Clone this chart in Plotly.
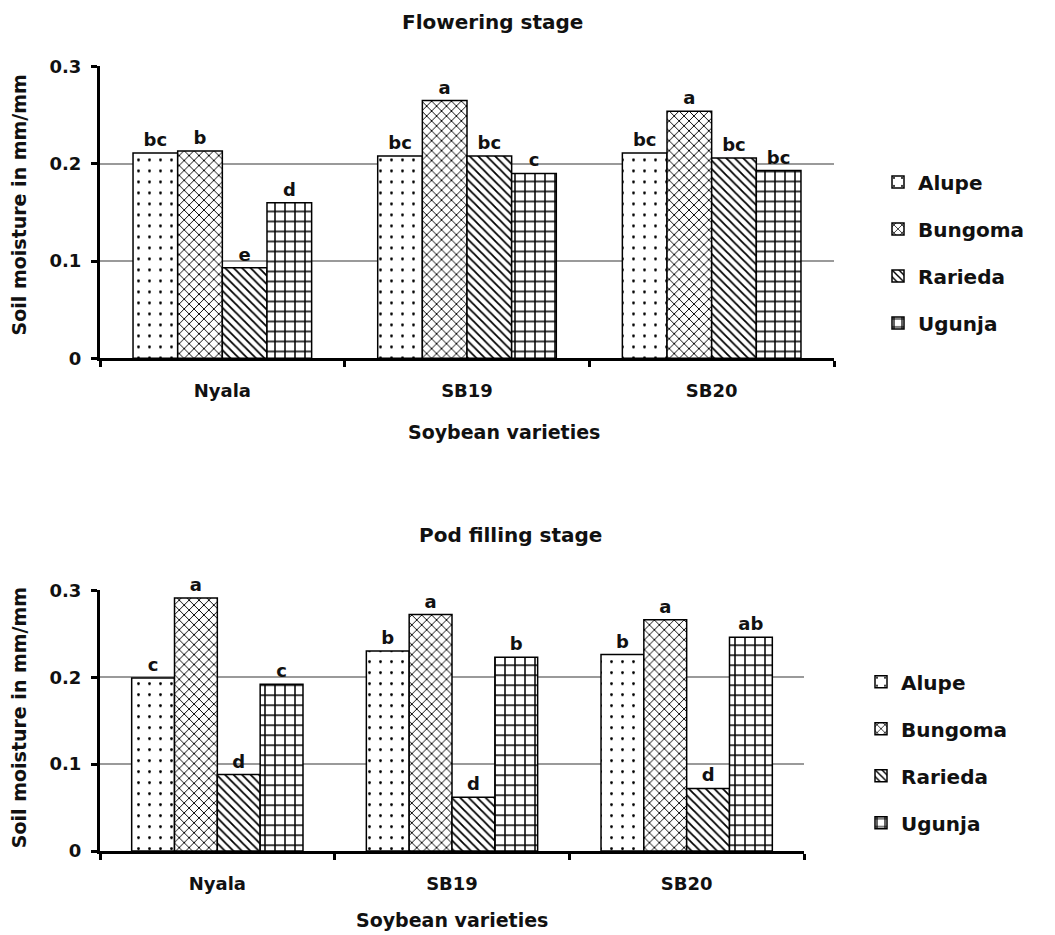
import plotly.graph_objects as go

varieties = ["Nyala", "SB19", "SB20"]
sites = ["Alupe", "Bungoma", "Rarieda", "Ugunja"]

# Flowering stage (soil moisture, mm/mm)
flower_alupe = [0.211, 0.208, 0.211]
flower_bungoma = [0.213, 0.265, 0.254]
flower_rarieda = [0.093, 0.208, 0.206]
flower_ugunja = [0.160, 0.190, 0.193]
flower_letters_alupe = ["bc", "bc", "bc"]
flower_letters_bungoma = ["b", "a", "a"]
flower_letters_rarieda = ["e", "bc", "bc"]
flower_letters_ugunja = ["d", "c", "bc"]

# Pod filling stage (soil moisture, mm/mm)
pod_alupe = [0.199, 0.230, 0.226]
pod_bungoma = [0.291, 0.272, 0.266]
pod_rarieda = [0.088, 0.062, 0.072]
pod_ugunja = [0.192, 0.223, 0.246]
pod_letters_alupe = ["c", "b", "b"]
pod_letters_bungoma = ["a", "a", "a"]
pod_letters_rarieda = ["d", "d", "d"]
pod_letters_ugunja = ["c", "b", "ab"]

y_ticks = [0, 0.1, 0.2, 0.3]
y_ticktext = ["0", "0.1", "0.2", "0.3"]

FONT = "DejaVu Sans"
INK = "#111"
W, H = 1055, 935

patterns = {
    "Alupe": dict(shape=".", size=11, solidity=0.05),
    "Bungoma": dict(shape="x", size=7, solidity=0.25),
    "Rarieda": dict(shape="\\", size=6, solidity=0.3),
    "Ugunja": dict(shape="+", size=10, solidity=0.28),
}

flower_vals = [flower_alupe, flower_bungoma, flower_rarieda, flower_ugunja]
flower_txt = [flower_letters_alupe, flower_letters_bungoma, flower_letters_rarieda, flower_letters_ugunja]
pod_vals = [pod_alupe, pod_bungoma, pod_rarieda, pod_ugunja]
pod_txt = [pod_letters_alupe, pod_letters_bungoma, pod_letters_rarieda, pod_letters_ugunja]

fig = go.Figure()


def add_bars(vals, txts, xa, ya, leg, grp):
    for i, s in enumerate(sites):
        p = patterns[s]
        fig.add_trace(go.Bar(
            x=varieties, y=vals[i], name=s, text=txts[i],
            textposition="outside", cliponaxis=False, constraintext="none",
            textfont=dict(family=FONT, size=18, color=INK, weight="bold"),
            marker=dict(color="white", line=dict(color="black", width=1.5),
                        pattern=dict(shape=p["shape"], size=p["size"], solidity=p["solidity"],
                                     fgcolor="black", bgcolor="white", fgopacity=1,
                                     fillmode="replace")),
            xaxis=xa, yaxis=ya, legend=leg, legendgroup=grp + s,
        ))


add_bars(flower_vals, flower_txt, "x", "y", "legend", "f")
add_bars(pod_vals, pod_txt, "x2", "y2", "legend2", "p")


def px_x(v):
    return v / W


def px_y(v):
    # vertical placement calibrated against the rendered screenshot
    return 1 - ((v - 10.5) / 0.978) / H


xaxis_common = dict(
    type="category", showline=True, linecolor="black", linewidth=3,
    ticks="outside", tickson="boundaries", ticklen=6, tickwidth=3, tickcolor="black",
    tickfont=dict(family=FONT, size=18, color=INK, weight="bold"), ticklabelstandoff=14,
    showgrid=False, zeroline=False,
)
yaxis_common = dict(
    range=[0, 0.3], tickvals=y_ticks, ticktext=y_ticktext,
    showline=True, linecolor="black", linewidth=3,
    ticks="outside", ticklen=6, tickwidth=3, tickcolor="black",
    tickfont=dict(family=FONT, size=18, color=INK, weight="bold"), ticklabelstandoff=6,
    showgrid=True, gridcolor="#9a9a9a", gridwidth=2, zeroline=False,
)
legend_common = dict(
    xanchor="left", yanchor="top", font=dict(family=FONT, size=20, color=INK, weight="bold"),
    tracegroupgap=18, bgcolor="rgba(0,0,0,0)",
)

fig.update_layout(
    width=W, height=H, margin=dict(l=0, r=0, t=0, b=0),
    paper_bgcolor="white", plot_bgcolor="white",
    barmode="group", bargap=0.27, bargroupgap=0,
    font=dict(family=FONT, color=INK),
    xaxis=dict(xaxis_common, domain=[px_x(100), px_x(834)], anchor="y"),
    yaxis=dict(yaxis_common, domain=[px_y(358), px_y(66)], anchor="x"),
    xaxis2=dict(xaxis_common, domain=[px_x(100), px_x(804)], anchor="y2"),
    yaxis2=dict(yaxis_common, domain=[px_y(851), px_y(590)], anchor="x2"),
    legend=dict(legend_common, x=px_x(878), y=px_y(162)),
    legend2=dict(legend_common, x=px_x(861), y=px_y(662)),
    showlegend=True,
)


def label(text, x, y, size, angle=0):
    return dict(text=text, x=px_x(x), y=px_y(y), xref="paper", yref="paper",
                xanchor="center", yanchor="middle", showarrow=False, textangle=angle,
                font=dict(family=FONT, size=size, color=INK, weight="bold"))


fig.update_layout(annotations=[
    label("Flowering stage", 492, 22, 20),
    label("Pod filling stage", 510, 535, 20),
    label("Soybean varieties", 504, 432, 19),
    label("Soybean varieties", 452, 920, 19),
    label("Soil moisture in mm/mm", 19, 205, 19, -90),
    label("Soil moisture in mm/mm", 19, 718, 19, -90),
])

fig.write_html("out.html")
